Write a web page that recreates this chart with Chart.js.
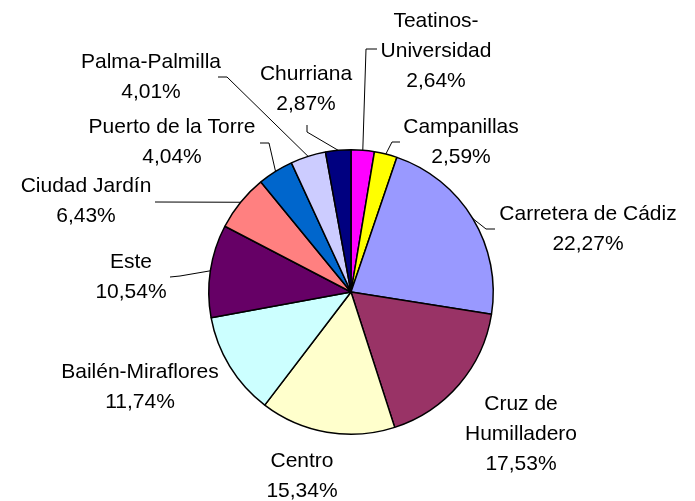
<!DOCTYPE html>
<html>
<head>
<meta charset="utf-8">
<script src="https://cdn.jsdelivr.net/npm/chart.js@4/dist/chart.umd.min.js"></script>
<style>
  html, body { margin: 0; padding: 0; background: #fff; }
  #wrap { width: 695px; height: 501px; }
</style>
</head>
<body>
<div id="wrap"><canvas id="pieChart" width="695" height="501"></canvas></div>
<script>
// =====================
// Data
// =====================
const districts = [
  "Teatinos-Universidad", "Campanillas", "Carretera de Cádiz", "Cruz de Humilladero",
  "Centro", "Bailén-Miraflores", "Este", "Ciudad Jardín",
  "Puerto de la Torre", "Palma-Palmilla", "Churriana"
];
const shares = [2.64, 2.59, 22.27, 17.53, 15.34, 11.74, 10.54, 6.43, 4.04, 4.01, 2.87];
const sliceColors = [
  "#FF00FF", "#FFFF00", "#9999FF", "#993366",
  "#FFFFCC", "#CCFFFF", "#660066", "#FF8080",
  "#0066CC", "#CCCCFF", "#000080"
];

// how the long names break onto two lines
const wrapped = {
  "Teatinos-Universidad": ["Teatinos-", "Universidad"],
  "Cruz de Humilladero": ["Cruz de", "Humilladero"]
};

// label placement, relative to pie centre: text centre x, first baseline y, leader elbow points
const labelLayout = [
  { dx: 85,   dy: -265, leader: [[15, -243], [26, -243]] },
  { dx: 110,  dy: -159, leader: [[41, -150], [49, -150]] },
  { dx: 237,  dy: -72,  leader: [[135, -63], [144, -63]] },
  { dx: 170,  dy: 118,  leader: null },
  { dx: -49,  dy: 175,  leader: null },
  { dx: -211, dy: 86,   leader: null },
  { dx: -220, dy: -24,  leader: [[-171, -16], [-181, -15]] },
  { dx: -265, dy: -100, leader: [[-196, -90]] },
  { dx: -179, dy: -159, leader: [[-82, -149], [-91, -149]] },
  { dx: -200, dy: -224, leader: [[-124, -215], [-133, -215]] },
  { dx: -45,  dy: -212, leader: [[-44, -160], [-44, -167]] }
];
const lineGap = 30;

// =====================
// Outside labels with leader lines
// =====================
const outsideLabels = {
  id: "outsideLabels",
  afterDraw(chart) {
    const c = chart.ctx;
    const arcs = chart.getDatasetMeta(0).data;
    c.save();
    c.font = "21px 'Liberation Sans', Arial, sans-serif";
    c.fillStyle = "#000";
    c.strokeStyle = "#000";
    c.lineWidth = 1;
    c.textAlign = "center";
    c.textBaseline = "alphabetic";
    arcs.forEach((arc, i) => {
      const p = arc.getProps(["x", "y", "startAngle", "endAngle", "outerRadius"], true);
      const mid = (p.startAngle + p.endAngle) / 2;
      const lay = labelLayout[i];
      if (lay.leader) {
        c.beginPath();
        c.moveTo(p.x + Math.cos(mid) * p.outerRadius, p.y + Math.sin(mid) * p.outerRadius);
        lay.leader.forEach(pt => c.lineTo(p.x + pt[0], p.y + pt[1]));
        c.stroke();
      }
      const name = districts[i];
      const lines = (wrapped[name] || [name]).concat([shares[i].toFixed(2).replace(".", ",") + "%"]);
      lines.forEach((t, k) => {
        c.fillText(t, p.x + lay.dx, p.y + lay.dy + k * lineGap);
      });
    });
    c.restore();
  }
};

// =====================
// Pie
// =====================
new Chart(document.getElementById("pieChart"), {
  type: "pie",
  data: {
    labels: districts,
    datasets: [{
      data: shares,
      backgroundColor: sliceColors,
      borderColor: "#000",
      borderWidth: 1.5
    }]
  },
  options: {
    responsive: false,
    animation: false,
    layout: { padding: { top: 149, bottom: 66, left: 101, right: 94 } },
    plugins: {
      legend: { display: false },
      tooltip: { enabled: false }
    }
  },
  plugins: [outsideLabels]
});
</script>
</body>
</html>
